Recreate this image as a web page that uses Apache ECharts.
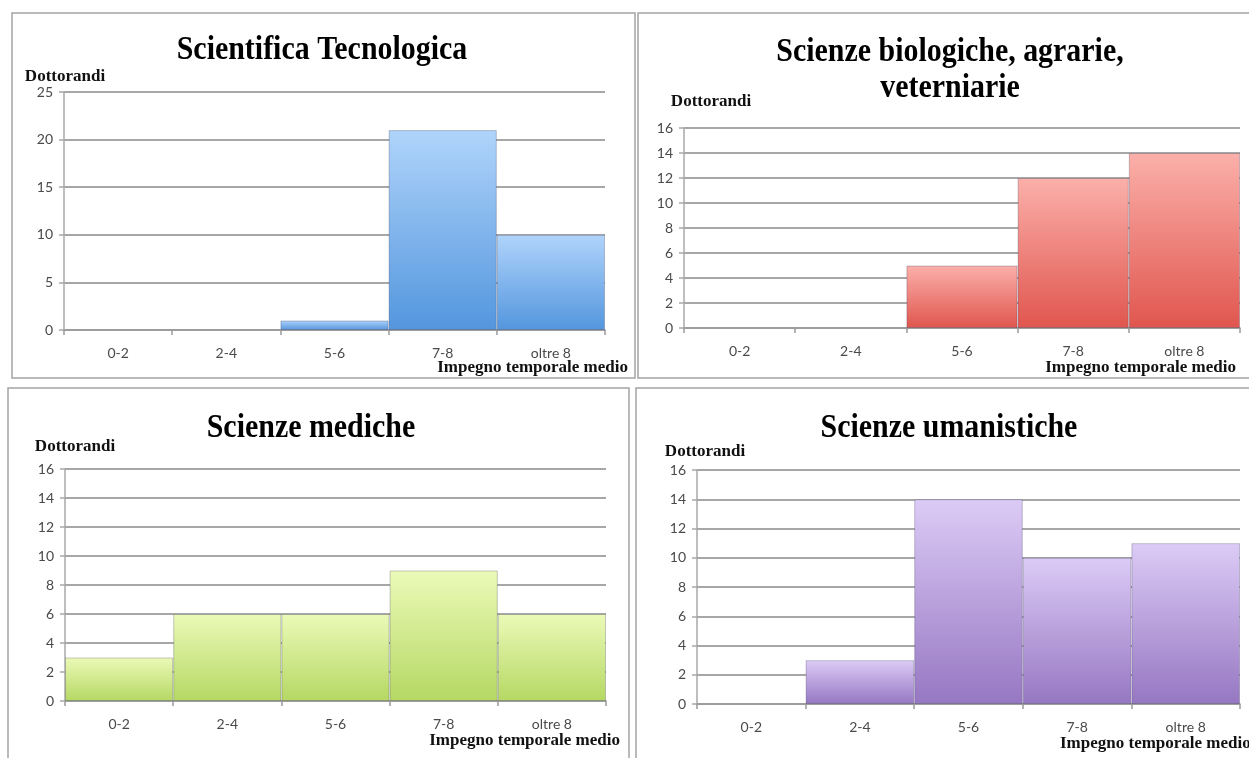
<!DOCTYPE html>
<html><head><meta charset="utf-8">
<script src="https://cdn.jsdelivr.net/npm/echarts@6/dist/echarts.min.js"></script>
<style>html,body{margin:0;padding:0;background:#fff}#c{width:1249px;height:758px}</style>
</head><body><div id="c"></div>
<script>
const categories = ['0-2', '2-4', '5-6', '7-8', 'oltre 8'];
const panelTitles = ['Scientifica Tecnologica', 'Scienze biologiche, agrarie,\nveterniarie', 'Scienze mediche', 'Scienze umanistiche'];
const sciTec = [0, 0, 1, 21, 10];
const bioAgr = [0, 0, 5, 12, 14];
const medic = [3, 6, 6, 9, 6];
const uman = [0, 3, 14, 10, 11];
const yMaxes = [25, 16, 16, 16];
const yIntervals = [5, 2, 2, 2];
const yName = 'Dottorandi';
const xName = 'Impegno temporale medio';

const seriesData = [sciTec, bioAgr, medic, uman];
const palettes = [
  ['#b0d4fb', '#5396de'],
  ['#fbb0aa', '#e0564e'],
  ['#ebfab8', '#b5d863'],
  ['#dccbf6', '#9677c2']
];
const grids = [
  {left: 64, top: 92, width: 541, height: 238},
  {left: 684, top: 128, width: 556, height: 200},
  {left: 65, top: 469, width: 541, height: 232},
  {left: 697, top: 470, width: 543, height: 234}
];
const titlePos = [[322, 50], [950, 70], [311, 428], [949, 428]];
const yNamePos = [[65, 77], [711, 102], [75, 447], [705, 452]];
const xNamePos = [[628, 368, 'right'], [1236, 368, 'right'], [620, 741, 'right'], [1060, 744, 'left']];
const panels = [
  {x: 12, y: 13, width: 623, height: 365},
  {x: 638, y: 13, width: 620, height: 365},
  {x: 8, y: 388, width: 621, height: 380},
  {x: 636, y: 388, width: 620, height: 380}
];

const gridLineColor = '#8a8a8a';
const xAxes = [], yAxes = [], series = [], graphics = [];
grids.forEach((g, i) => {
  xAxes.push({
    type: 'category', gridIndex: i, data: categories,
    axisLine: {show: true, lineStyle: {color: '#9a9a9a', width: 1.5}},
    axisTick: {show: true, length: 5, lineStyle: {color: '#9a9a9a', width: 1.5}},
    axisLabel: {margin: 16, fontSize: 14, fontFamily: 'Lato', color: '#4a4a4a'},
    splitLine: {show: false}
  });
  yAxes.push({
    type: 'value', gridIndex: i, min: 0, max: yMaxes[i], interval: yIntervals[i],
    axisLine: {show: true, lineStyle: {color: '#a8a8a8', width: 1.5}},
    axisTick: {show: true, length: 5, lineStyle: {color: '#a8a8a8', width: 1.5}},
    axisLabel: {margin: 11, fontSize: 14, fontFamily: 'Lato', color: '#4a4a4a'},
    splitLine: {show: true, lineStyle: {color: gridLineColor, width: 1.6}}
  });
  series.push({
    type: 'bar', xAxisIndex: i, yAxisIndex: i,
    data: seriesData[i].map(v => ({value: v, itemStyle: v === 0 ? {borderWidth: 0} : undefined})),
    barCategoryGap: '0%', z: 3,
    itemStyle: {
      color: {type: 'linear', x: 0, y: 0, x2: 0, y2: 1, colorStops: [
        {offset: 0, color: palettes[i][0]}, {offset: 1, color: palettes[i][1]}
      ]},
      borderColor: 'rgba(40,40,70,0.25)', borderWidth: 1
    }
  });
  graphics.push({
    type: 'rect', shape: panels[i], z: 0, silent: true,
    style: {fill: 'none', stroke: '#a4a4a4', lineWidth: 1.5}
  });
  graphics.push({
    type: 'text', x: titlePos[i][0], y: titlePos[i][1], scaleX: 0.88, z: 10,
    style: {text: panelTitles[i], fontFamily: 'Liberation Serif', fontWeight: 'bold', fontSize: 34,
      lineHeight: 36, fill: '#000', textAlign: 'center', textVerticalAlign: 'middle'}
  });
  graphics.push({
    type: 'text', x: yNamePos[i][0], y: yNamePos[i][1], z: 10,
    style: {text: yName, fontFamily: 'Liberation Serif', fontWeight: 'bold', fontSize: 17,
      fill: '#111', textAlign: 'center', textVerticalAlign: 'middle'}
  });
  graphics.push({
    type: 'text', x: xNamePos[i][0], y: xNamePos[i][1], z: 10,
    style: {text: xName, fontFamily: 'Liberation Serif', fontWeight: 'bold', fontSize: 17,
      fill: '#111', textAlign: xNamePos[i][2], textVerticalAlign: 'middle'}
  });
});

const chart = echarts.init(document.getElementById('c'), null, {renderer: 'canvas'});
chart.setOption({
  animation: false,
  backgroundColor: '#ffffff',
  grid: grids,
  xAxis: xAxes,
  yAxis: yAxes,
  series: series,
  graphic: graphics
});
</script>
</body></html>
